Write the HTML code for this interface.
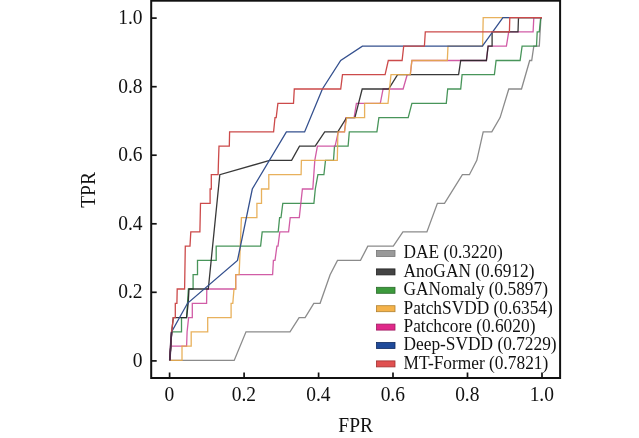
<!DOCTYPE html>
<html><head><meta charset="utf-8"><style>
html,body{margin:0;padding:0;background:#fff;width:639px;height:438px;overflow:hidden}
svg{display:block;filter:blur(0.4px)}
text{font-family:"Liberation Serif",serif;fill:#111}
</style></head><body>
<svg width="639" height="438" viewBox="0 0 639 438">
<path d="M169.8,360.4 L234.2,360.4 L246.0,331.8 L290.0,331.8 L299.1,317.6 L305.1,317.6 L313.8,303.3 L320.1,303.3 L330.1,274.7 L337.5,260.4 L360.5,260.4 L367.8,246.1 L393.3,246.1 L402.9,231.9 L426.9,231.9 L437.4,203.3 L444.5,203.3 L462.4,174.7 L469.4,174.7 L476.8,160.4 L483.2,131.9 L491.8,131.9 L500.1,117.6 L508.8,89.0 L521.5,89.0 L529.7,60.5 L531.7,60.5 L533.8,46.2 L539.3,46.2 L540.9,17.6 L542.0,17.6" fill="none" stroke="#7e7e7e" stroke-width="1.3" stroke-opacity="0.9" stroke-linejoin="miter"/>
<path d="M169.8,360.4 L171.7,331.8 L181.5,331.8 L181.5,317.6 L186.6,317.6 L188.4,289.0 L193.1,289.0 L193.1,274.7 L197.5,274.7 L197.5,260.4 L216.2,260.4 L216.2,246.1 L260.6,246.1 L262.2,231.9 L278.2,231.9 L279.6,217.6 L281.0,217.6 L282.8,203.3 L313.9,203.3 L315.3,189.0 L317.9,174.7 L323.9,174.7 L325.5,160.4 L333.5,160.4 L334.5,146.2 L348.1,146.2 L349.3,131.9 L376.9,131.9 L378.9,117.6 L408.2,117.6 L411.9,103.3 L446.3,103.3 L447.7,89.0 L460.7,89.0 L462.1,74.7 L494.4,74.7 L496.1,60.5 L520.1,60.5 L522.1,46.2 L536.5,46.2 L537.2,31.9 L539.3,31.9 L540.7,17.6 L542.0,17.6" fill="none" stroke="#348a48" stroke-width="1.3" stroke-opacity="0.9" stroke-linejoin="miter"/>
<path d="M169.8,360.4 L170.5,346.1 L186.6,346.1 L187.1,331.8 L188.6,317.6 L192.3,317.6 L192.3,303.3 L206.6,303.3 L206.8,289.0 L235.7,289.0 L235.7,274.7 L272.6,274.7 L273.4,260.4 L275.0,260.4 L276.9,246.1 L278.0,246.1 L279.8,231.9 L288.6,231.9 L290.2,217.6 L299.3,217.6 L302.4,189.0 L312.8,189.0 L314.8,160.4 L317.4,146.2 L335.1,146.2 L338.3,131.9 L344.5,131.9 L346.0,117.6 L354.1,117.6 L356.4,103.3 L380.3,103.3 L383.1,89.0 L403.1,89.0 L407.2,74.7 L410.3,74.7 L411.9,60.5 L460.7,60.5 L486.4,60.5 L488.1,46.2 L506.4,46.2 L508.7,31.9 L533.1,31.9 L533.8,17.6 L542.0,17.6" fill="none" stroke="#cc4a9c" stroke-width="1.3" stroke-opacity="0.9" stroke-linejoin="miter"/>
<path d="M169.8,360.4 L171.7,331.8 L173.3,317.6 L186.6,317.6 L188.2,303.3 L189.0,289.0 L208.3,289.0 L219.8,174.7 L269.7,160.4 L291.6,160.4 L299.5,146.2 L315.2,146.2 L324.7,131.9 L337.8,131.9 L346.6,117.6 L354.9,117.6 L362.2,89.0 L388.6,89.0 L397.6,74.7 L458.6,74.7 L460.7,60.5 L486.4,60.5 L488.1,46.2 L492.1,46.2 L492.1,31.9 L518.0,31.9 L518.5,17.6 L542.0,17.6" fill="none" stroke="#222222" stroke-width="1.3" stroke-opacity="0.9" stroke-linejoin="miter"/>
<path d="M169.8,360.4 L182.0,360.4 L182.0,346.1 L191.2,346.1 L191.2,331.8 L207.7,331.8 L207.7,317.6 L231.1,317.6 L231.1,303.3 L232.8,303.3 L234.0,289.0 L235.7,289.0 L235.7,274.7 L239.1,274.7 L239.7,260.4 L241.4,217.6 L256.9,217.6 L256.9,203.3 L261.5,203.3 L261.5,189.0 L268.8,189.0 L268.8,174.7 L301.1,174.7 L301.4,160.4 L337.3,160.4 L337.9,131.9 L344.5,131.9 L346.7,117.6 L364.6,117.6 L364.6,103.3 L388.0,103.3 L391.0,74.7 L410.3,74.7 L411.9,60.5 L447.3,60.5 L448.0,46.2 L482.6,46.2 L483.2,17.6 L542.0,17.6" fill="none" stroke="#e6a84a" stroke-width="1.3" stroke-opacity="0.9" stroke-linejoin="miter"/>
<path d="M169.8,360.4 L171.7,331.8 L187.5,303.3 L237.5,260.4 L252.3,189.0 L286.4,131.9 L304.6,131.9 L322.4,89.0 L340.7,60.5 L362.4,46.2 L482.4,46.2 L502.9,17.6 L542.0,17.6" fill="none" stroke="#34508e" stroke-width="1.3" stroke-opacity="1.0" stroke-linejoin="miter"/>
<path d="M169.8,360.4 L171.7,331.8 L173.3,317.6 L175.3,317.6 L175.3,303.3 L176.9,303.3 L177.2,289.0 L184.6,289.0 L185.3,246.1 L190.0,246.1 L190.8,231.9 L199.9,231.9 L200.5,203.3 L210.1,203.3 L210.1,189.0 L211.3,189.0 L211.3,174.7 L218.1,174.7 L218.5,160.4 L219.0,146.2 L229.3,146.2 L229.6,131.9 L273.6,131.9 L275.0,117.6 L276.2,117.6 L277.9,103.3 L293.5,103.3 L294.3,89.0 L340.7,89.0 L342.5,74.7 L385.1,74.7 L388.3,60.5 L402.1,60.5 L403.7,46.2 L424.4,46.2 L425.3,31.9 L509.4,31.9 L509.8,17.6 L542.0,17.6" fill="none" stroke="#cc4a4a" stroke-width="1.3" stroke-opacity="1.0" stroke-linejoin="miter"/>
<path d="M169.8,360.4 L171.5,331.8" fill="none" stroke="#4a2d48" stroke-width="1.8"/>
<rect x="151.2" y="0.7" width="408.9" height="377.3" fill="none" stroke="#111" stroke-width="2"/>
<line x1="169.6" y1="378.0" x2="169.6" y2="372.5" stroke="#111" stroke-width="1.7"/>
<line x1="151.2" y1="360.9" x2="156.7" y2="360.9" stroke="#111" stroke-width="1.7"/>
<line x1="244.1" y1="378.0" x2="244.1" y2="372.5" stroke="#111" stroke-width="1.7"/>
<line x1="151.2" y1="292.3" x2="156.7" y2="292.3" stroke="#111" stroke-width="1.7"/>
<line x1="318.6" y1="378.0" x2="318.6" y2="372.5" stroke="#111" stroke-width="1.7"/>
<line x1="151.2" y1="223.8" x2="156.7" y2="223.8" stroke="#111" stroke-width="1.7"/>
<line x1="393.0" y1="378.0" x2="393.0" y2="372.5" stroke="#111" stroke-width="1.7"/>
<line x1="151.2" y1="155.2" x2="156.7" y2="155.2" stroke="#111" stroke-width="1.7"/>
<line x1="467.5" y1="378.0" x2="467.5" y2="372.5" stroke="#111" stroke-width="1.7"/>
<line x1="151.2" y1="86.7" x2="156.7" y2="86.7" stroke="#111" stroke-width="1.7"/>
<line x1="542.0" y1="378.0" x2="542.0" y2="372.5" stroke="#111" stroke-width="1.7"/>
<line x1="151.2" y1="18.1" x2="156.7" y2="18.1" stroke="#111" stroke-width="1.7"/>
<rect x="376.5" y="250.5" width="18.5" height="6" fill="#999" stroke="#777" stroke-width="0.8"/>
<rect x="376.5" y="268.9" width="18.5" height="6" fill="#444" stroke="#222" stroke-width="0.8"/>
<rect x="376.5" y="287.3" width="18.5" height="6" fill="#3c9a3c" stroke="#2a6a2a" stroke-width="0.8"/>
<rect x="376.5" y="305.7" width="18.5" height="6" fill="#f4b24a" stroke="#b08030" stroke-width="0.8"/>
<rect x="376.5" y="324.1" width="18.5" height="6" fill="#e0288a" stroke="#a01a60" stroke-width="0.8"/>
<rect x="376.5" y="342.5" width="18.5" height="6" fill="#1f4a9a" stroke="#102a60" stroke-width="0.8"/>
<rect x="376.5" y="360.9" width="18.5" height="6" fill="#e05050" stroke="#a03030" stroke-width="0.8"/>
<text x="0" y="0" font-size="19.5" text-anchor="middle" transform="translate(169.4,400.7) scale(1,1.1)">0</text>
<text x="0" y="0" font-size="19.5" text-anchor="end" transform="translate(142.5,366.9) scale(1,1.1)">0</text>
<text x="0" y="0" font-size="19.5" text-anchor="middle" transform="translate(243.9,400.7) scale(1,1.1)">0.2</text>
<text x="0" y="0" font-size="19.5" text-anchor="end" transform="translate(142.5,298.3) scale(1,1.1)">0.2</text>
<text x="0" y="0" font-size="19.5" text-anchor="middle" transform="translate(318.4,400.7) scale(1,1.1)">0.4</text>
<text x="0" y="0" font-size="19.5" text-anchor="end" transform="translate(142.5,229.8) scale(1,1.1)">0.4</text>
<text x="0" y="0" font-size="19.5" text-anchor="middle" transform="translate(392.8,400.7) scale(1,1.1)">0.6</text>
<text x="0" y="0" font-size="19.5" text-anchor="end" transform="translate(142.5,161.2) scale(1,1.1)">0.6</text>
<text x="0" y="0" font-size="19.5" text-anchor="middle" transform="translate(467.3,400.7) scale(1,1.1)">0.8</text>
<text x="0" y="0" font-size="19.5" text-anchor="end" transform="translate(142.5,92.7) scale(1,1.1)">0.8</text>
<text x="0" y="0" font-size="19.5" text-anchor="middle" transform="translate(541.8,400.7) scale(1,1.1)">1.0</text>
<text x="0" y="0" font-size="19.5" text-anchor="end" transform="translate(142.5,24.1) scale(1,1.1)">1.0</text>
<text x="0" y="0" font-size="17.35" transform="translate(403.5,258.3) scale(1,1.07)">DAE (0.3220)</text>
<text x="0" y="0" font-size="17.35" transform="translate(403.5,276.7) scale(1,1.07)">AnoGAN (0.6912)</text>
<text x="0" y="0" font-size="17.35" transform="translate(403.5,295.1) scale(1,1.07)">GANomaly (0.5897)</text>
<text x="0" y="0" font-size="17.35" transform="translate(403.5,313.5) scale(1,1.07)">PatchSVDD (0.6354)</text>
<text x="0" y="0" font-size="17.35" transform="translate(403.5,331.9) scale(1,1.07)">Patchcore (0.6020)</text>
<text x="0" y="0" font-size="17.35" transform="translate(403.5,350.3) scale(1,1.07)">Deep-SVDD (0.7229)</text>
<text x="0" y="0" font-size="17.35" transform="translate(403.5,368.7) scale(1,1.07)">MT-Former (0.7821)</text>
<text x="0" y="0" font-size="19.5" text-anchor="middle" transform="translate(355.7,431.6) scale(1,1.06)">FPR</text>
<text x="0" y="0" font-size="19.5" text-anchor="middle" transform="translate(94.5,190) rotate(-90) scale(1,1.06)">TPR</text>
</svg></body></html>
